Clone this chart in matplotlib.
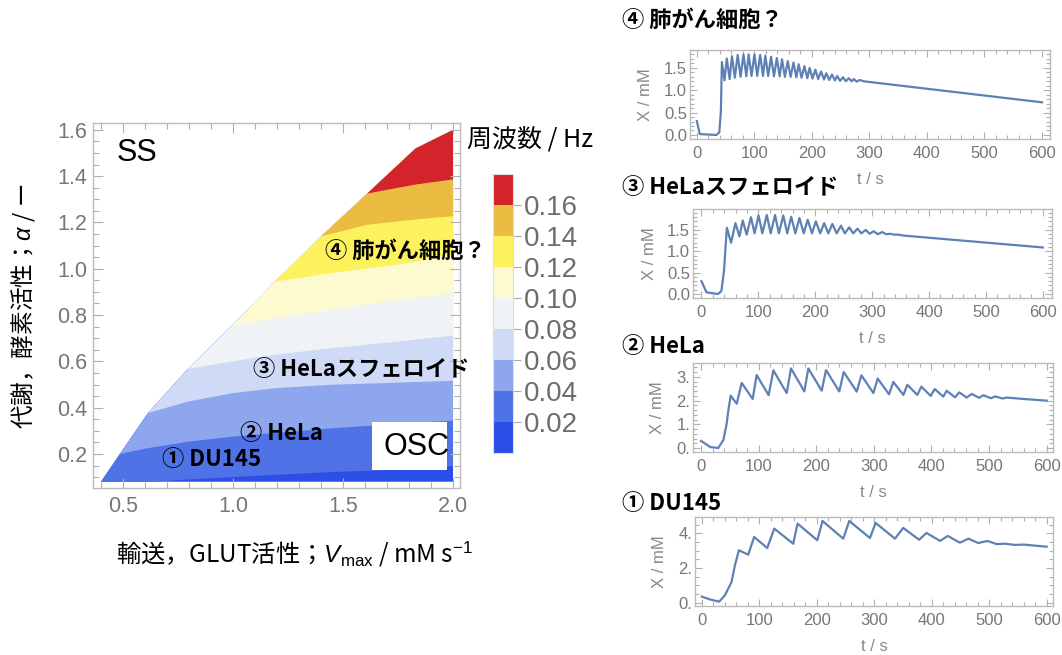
import matplotlib
matplotlib.use('Agg')
import matplotlib.pyplot as plt
from matplotlib.colors import ListedColormap, BoundaryNorm
from matplotlib.cm import ScalarMappable
from matplotlib.patches import Polygon, Rectangle
from matplotlib.ticker import MultipleLocator, FormatStrFormatter

plt.rcParams['font.family'] = ['Liberation Sans', 'Noto Sans CJK JP', 'DejaVu Sans']
plt.rcParams['mathtext.fontset'] = 'custom'
plt.rcParams['mathtext.rm'] = 'Liberation Sans'
plt.rcParams['mathtext.it'] = 'Liberation Sans:italic'

JP = ['Noto Sans CJK JP', 'DejaVu Sans']
LINE = '#5e81b5'
SPINE = '#bbbbbb'
TICKTXT = '#777777'

# ---- 位相図: 振動領域 (OSC) の境界 ----
edge_v = [0.40, 0.486, 0.614, 0.795, 0.995, 1.19, 1.40, 1.61, 1.83, 2.00]
edge_a = [0.08, 0.20, 0.377, 0.567, 0.754, 0.944, 1.14, 1.325, 1.52, 1.60]
bottom_a = 0.08

# 周波数の等値線 (Vmax, alpha)
iso002_v = [0.40, 0.60, 0.80, 1.00, 1.30, 1.45, 1.85, 2.00]
iso002_a = [0.075, 0.078, 0.09, 0.10, 0.115, 0.122, 0.135, 0.148]
iso004_v = [0.486, 0.614, 0.795, 1.00, 1.45, 1.75, 2.00]
iso004_a = [0.20, 0.225, 0.253, 0.275, 0.311, 0.33, 0.344]
iso006_v = [0.614, 0.795, 1.00, 1.19, 1.45, 2.00]
iso006_a = [0.377, 0.426, 0.463, 0.484, 0.499, 0.516]
iso008_v = [0.795, 1.00, 1.19, 1.45, 1.75, 2.00]
iso008_a = [0.567, 0.60, 0.629, 0.657, 0.686, 0.711]
iso010_v = [0.995, 1.19, 1.45, 1.75, 2.00]
iso010_a = [0.754, 0.787, 0.823, 0.866, 0.895]
iso012_v = [1.19, 1.45, 1.75, 2.00]
iso012_a = [0.944, 0.982, 1.018, 1.061]
iso014_v = [1.40, 1.61, 1.83, 2.00]
iso014_a = [1.14, 1.19, 1.213, 1.227]
iso016_v = [1.61, 1.83, 2.00]
iso016_a = [1.325, 1.364, 1.386]

freq_bounds = [0.00, 0.02, 0.04, 0.06, 0.08, 0.10, 0.12, 0.14, 0.16, 0.18]
freq_ticks = [0.02, 0.04, 0.06, 0.08, 0.10, 0.12, 0.14, 0.16]
freq_colors = ['#2b4ee6', '#4f73e6', '#8da6ee', '#cfdaf6', '#eff3f5',
               '#fdfad0', '#fcf25e', '#ebbc42', '#d3232b']

# ---- 時系列 ④ 肺がん細胞？ ----
rise4_t = [0, 5, 34, 39, 41.7]
rise4_x = [0.31, 0.02, 0.0, 0.06, 0.52]
pk4_t = [43.5, 52, 61, 71, 81, 90, 100, 110, 119, 129, 139, 148, 158, 168, 177,
         187, 196, 206, 216, 225, 235, 244, 254, 264, 273, 283]
pk4_x = [1.63, 1.71, 1.76, 1.79, 1.80, 1.80, 1.80, 1.79, 1.77, 1.75, 1.72, 1.69,
         1.65, 1.62, 1.58, 1.54, 1.50, 1.46, 1.42, 1.38, 1.35, 1.32, 1.29, 1.27,
         1.25, 1.23]
tr4_t = [48, 57, 66, 76, 86, 95, 105, 115, 124, 134, 144, 153, 163, 173, 182,
         192, 201, 211, 221, 230, 240, 249, 259, 269, 278]
tr4_x = [1.22, 1.25, 1.28, 1.30, 1.31, 1.32, 1.32, 1.32, 1.32, 1.31, 1.31, 1.30,
         1.30, 1.29, 1.28, 1.27, 1.26, 1.25, 1.24, 1.23, 1.22, 1.21, 1.20, 1.20,
         1.19]
tail4_t = [290, 600]
tail4_x = [1.20, 0.73]

# ---- 時系列 ③ HeLaスフェロイド ----
rise3_t = [0, 8.7, 29, 35, 39.4]
rise3_x = [0.30, 0.04, 0.0, 0.07, 0.52]
pk3_t = [44.6, 59.7, 72.5, 87, 100.3, 114.8, 129.3, 143.8, 157.7, 172.2, 186.7,
         201, 215.7, 230, 245.2, 259.7, 274.2, 288.7, 302.6, 317.7, 331.6, 346]
pk3_x = [1.55, 1.66, 1.72, 1.80, 1.84, 1.85, 1.85, 1.84, 1.81, 1.78, 1.74,
         1.70, 1.66, 1.64, 1.60, 1.56, 1.53, 1.50, 1.47, 1.45, 1.41, 1.39]
tr3_t = [52, 66.7, 79.4, 93.3, 107, 121.7, 136, 150.7, 165, 179.7, 194.2,
         208.7, 223, 237.7, 252, 266.7, 281, 295.6, 310, 324.6, 339]
tr3_x = [1.20, 1.35, 1.39, 1.42, 1.42, 1.42, 1.42, 1.42, 1.42, 1.42, 1.42,
         1.42, 1.42, 1.42, 1.42, 1.42, 1.42, 1.41, 1.40, 1.40, 1.39]
tail3_t = [353.6, 380, 600]
tail3_x = [1.37, 1.34, 1.09]

# ---- 時系列 ② HeLa ----
t2 = [0, 16, 30, 39, 44.6, 47.5, 51.5, 62, 70.6, 89.7, 96.6, 117.4, 125.6, 148.7,
      156.2, 179.4, 186.3, 209.5, 217, 240, 247.7, 270.3, 278.4, 299.2, 306.7,
      326.4, 333.9, 351.3, 358.2, 375.5, 382.5, 398.7, 405.6, 420.6, 426.4,
      440.9, 448.4, 461.2, 469.8, 483, 490, 503.5, 510.4, 523.7, 530.7, 560, 600]
x2 = [0.30, 0.04, 0.0, 0.35, 1.04, 1.60, 2.21, 1.87, 2.75, 2.07, 3.08, 2.23, 3.28,
      2.32, 3.36, 2.39, 3.36, 2.42, 3.29, 2.39, 3.21, 2.38, 3.07, 2.32, 2.93,
      2.27, 2.79, 2.24, 2.67, 2.24, 2.59, 2.20, 2.49, 2.17, 2.42, 2.14, 2.35,
      2.13, 2.28, 2.12, 2.23, 2.10, 2.18, 2.09, 2.13, 2.07, 2.00]

# ---- 時系列 ① DU145 ----
t1 = [0, 14, 30, 40, 51.6, 57.5, 64.4, 80.7, 91, 113.7, 126, 159, 166.5, 200.8,
      210, 246, 256.5, 292.5, 302.4, 336, 350.5, 378, 391, 414.5, 427.8, 449,
      463.8, 481, 496.8, 513, 527.4, 545, 559.5, 600]
x1 = [0.35, 0.19, 0.06, 0.42, 1.19, 2.15, 3.02, 2.77, 3.79, 3.15, 4.27, 3.40,
      4.56, 3.60, 4.71, 3.69, 4.71, 3.73, 4.60, 3.69, 4.31, 3.63, 4.02, 3.56,
      3.85, 3.46, 3.69, 3.44, 3.56, 3.38, 3.40, 3.33, 3.35, 3.23]


def zigzag(t_pk, x_pk, t_tr, x_tr):
    t, x = [], []
    for i in range(len(t_pk)):
        t.append(t_pk[i])
        x.append(x_pk[i])
        if i < len(t_tr):
            t.append(t_tr[i])
            x.append(x_tr[i])
    return t, x


def frame(ax, major_len, minor_len):
    for s in ax.spines.values():
        s.set_color(SPINE)
        s.set_linewidth(1.0)
    ax.tick_params(which='both', direction='in', top=True, right=True,
                   color='#b0b0b0', labelcolor=TICKTXT, width=0.8)
    ax.tick_params(which='major', length=major_len)
    ax.tick_params(which='minor', length=minor_len)


fig = plt.figure(figsize=(10.62, 6.55), dpi=100)

# ================= 位相図 =================
ax = fig.add_axes([0.0876, 0.2550, 0.3456, 0.5573])
ax.set_xlim(0.364, 2.032)
ax.set_ylim(0.053, 1.63)

osc_pts = list(zip(edge_v, edge_a)) + [(edge_v[-1], bottom_a)]
osc = Polygon(osc_pts, closed=True, facecolor=freq_colors[0], edgecolor='none')
ax.add_patch(osc)

isolines = [(iso002_v, iso002_a), (iso004_v, iso004_a), (iso006_v, iso006_a),
            (iso008_v, iso008_a), (iso010_v, iso010_a), (iso012_v, iso012_a),
            (iso014_v, iso014_a), (iso016_v, iso016_a)]
for k, (iv, ia) in enumerate(isolines, start=1):
    xs = [iv[0] - 0.05] + iv + [2.1, 2.1, iv[0] - 0.05]
    ys = [ia[0]] + ia + [ia[-1], 2.0, 2.0]
    band = ax.fill(xs, ys, color=freq_colors[k], lw=0)[0]
    band.set_clip_path(osc)

ax.add_patch(Rectangle((1.632, 0.131), 0.341, 0.208, facecolor='white',
                       edgecolor='none', zorder=3))
ax.text(1.834, 0.232, 'OSC', fontsize=22, ha='center', va='center', zorder=4)
ax.text(0.564, 1.499, 'SS', fontsize=22, ha='center', va='center')

ann = [('④ 肺がん細胞？', 1.418, 1.074), ('③ HeLaスフェロイド', 1.091, 0.564),
       ('② HeLa', 1.032, 0.289), ('① DU145', 0.677, 0.174)]
for s, xv, yv in ann:
    ax.text(xv, yv, s, family=JP, fontsize=16, fontweight='bold',
            ha='left', va='center', zorder=5)

ax.set_xticks([0.5, 1.0, 1.5, 2.0])
ax.set_yticks([0.2, 0.4, 0.6, 0.8, 1.0, 1.2, 1.4, 1.6])
ax.xaxis.set_major_formatter(FormatStrFormatter('%.1f'))
ax.yaxis.set_major_formatter(FormatStrFormatter('%.1f'))
ax.xaxis.set_minor_locator(MultipleLocator(0.1))
ax.yaxis.set_minor_locator(MultipleLocator(0.05))
frame(ax, 7, 4)
ax.tick_params(labelsize=15.5)
ax.tick_params(axis='x', pad=6)
ax.tick_params(axis='y', pad=4)

fig.text(0.0217, 0.533, '代謝，酵素活性；$\\mathit{\\alpha}$ / ー', family=JP,
         fontsize=17, rotation=90, ha='center', va='center')
fig.text(0.277, 0.154, '輸送，GLUT活性；$V_{\\mathrm{max}}$ / mM s$^{-1}$',
         family=JP, fontsize=17.5, ha='center', va='center')

# カラーバー
cax = fig.add_axes([0.4642, 0.3084, 0.0188, 0.426])
cmap = ListedColormap(freq_colors)
norm = BoundaryNorm(freq_bounds, cmap.N)
cb = fig.colorbar(ScalarMappable(norm=norm, cmap=cmap), cax=cax, ticks=freq_ticks)
cb.outline.set_edgecolor('#dddddd')
cb.ax.yaxis.set_major_formatter(FormatStrFormatter('%.2f'))
cb.ax.tick_params(labelsize=20, labelcolor='#6d6d6d', color='#aaaaaa',
                  length=6, width=0.8, pad=2)
cb.ax.minorticks_off()
fig.text(0.4397, 0.7863, '周波数 / Hz', family=JP, fontsize=18,
         ha='left', va='center')

# ================= 時系列 =================
t4, x4 = zigzag(pk4_t, pk4_x, tr4_t, tr4_x)
t4 = rise4_t + t4 + tail4_t
x4 = rise4_x + x4 + tail4_x
t3, x3 = zigzag(pk3_t, pk3_x, tr3_t, tr3_x)
t3 = rise3_t + t3 + tail3_t
x3 = rise3_x + x3 + tail3_x

panels = [
    ([0.6497, 0.7878, 0.3390, 0.1359], t4, x4, (-12, 614), (-0.09, 1.90),
     [0.0, 0.5, 1.0, 1.5], ['0.0', '0.5', '1.0', '1.5'], 0.1, -0.103,
     '④ 肺がん細胞？', 0.9695),
    ([0.6525, 0.5450, 0.3380, 0.1359], t3, x3, (-15, 616), (-0.094, 1.99),
     [0.0, 0.5, 1.0, 1.5], ['0.0', '0.5', '1.0', '1.5'], 0.1, -0.100,
     '③ HeLaスフェロイド', 0.7145),
    ([0.6525, 0.3099, 0.3390, 0.1359], t2, x2, (-14, 611), (-0.17, 3.59),
     [0, 1, 2, 3], ['0.', '1.', '2.', '3.'], 0.2, -0.078,
     '② HeLa', 0.4710),
    ([0.6544, 0.0748, 0.3371, 0.1359], t1, x1, (-12, 611), (-0.19, 4.94),
     [0, 2, 4], ['0.', '2.', '4.'], 0.5, -0.078,
     '① DU145', 0.2313),
]

for rect, t, x, xl, yl, yt, ytl, ymin, ylx, title, ty in panels:
    a = fig.add_axes(rect)
    a.plot(t, x, color=LINE, lw=1.6, solid_joinstyle='round')
    a.set_xlim(*xl)
    a.set_ylim(*yl)
    a.set_xticks([0, 100, 200, 300, 400, 500, 600])
    a.xaxis.set_minor_locator(MultipleLocator(20))
    a.set_yticks(yt)
    a.set_yticklabels(ytl)
    a.yaxis.set_minor_locator(MultipleLocator(ymin))
    frame(a, 5, 3)
    a.tick_params(labelsize=12)
    a.tick_params(axis='x', pad=5)
    a.tick_params(axis='y', pad=2)
    a.set_ylabel('X / mM', fontsize=12, color='#888888')
    a.yaxis.set_label_coords(ylx, 0.5)
    a.set_xlabel('t / s', fontsize=12, color='#888888')
    a.xaxis.set_label_coords(0.5, -0.37)
    fig.text(0.5857, ty, title, family=JP, fontsize=16, fontweight='bold',
             ha='left', va='center')

fig.savefig('out.png', dpi=100)
